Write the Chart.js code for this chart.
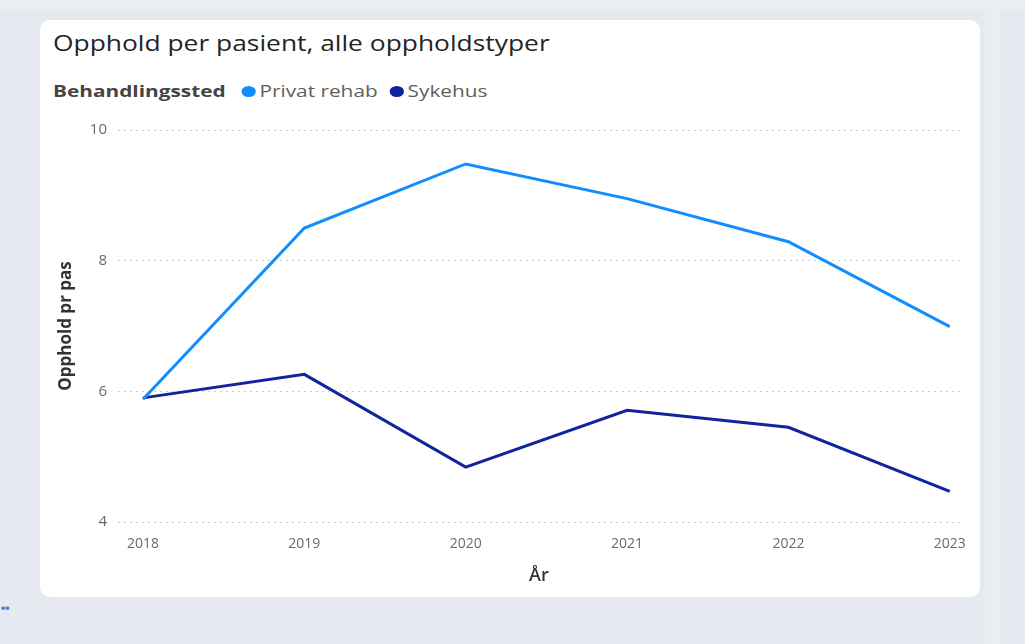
<!DOCTYPE html>
<html>
<head>
<meta charset="utf-8">
<script src="https://cdn.jsdelivr.net/npm/chart.js@4/dist/chart.umd.min.js"></script>
<style>
  html, body { margin:0; padding:0; }
  body { width:1025px; height:644px; background:#e6eaf0; position:relative; overflow:hidden; font-family:"Open Sans", sans-serif; }
  #topstrip { position:absolute; left:0; top:0; width:1025px; height:9px; background:#eceff3; }
  #rightstrip { position:absolute; left:985px; top:0; width:15px; height:644px; background:#eaedf2; }
  #card { position:absolute; left:40px; top:20px; width:940px; height:577px; background:#ffffff; border-radius:10px; }
  #title { position:absolute; left:53px; top:29px; font-size:21px; color:#252423; font-family:"Open Sans", sans-serif; white-space:nowrap; transform:scaleX(1.256); transform-origin:left center; }
  #legend { position:absolute; left:53px; top:80px; font-size:16px; color:#605E5C; white-space:nowrap; display:flex; align-items:center; transform:scaleX(1.3); transform-origin:left center; }
  #legend b { color:#444; font-weight:700; margin-right:12px; }
  .dot { display:inline-block; width:11px; height:11px; border-radius:50%; margin-right:3px; }
  .item { display:flex; align-items:center; margin-right:9px; }
  #wrap { position:absolute; left:40px; top:110px; width:940px; height:480px; }
  #dots { position:absolute; left:0px; top:592px; color:#4a7fd8; font-size:22px; font-weight:700; letter-spacing:-2px; }
</style>
</head>
<body>
<div id="topstrip"></div>
<div id="rightstrip"></div>
<div id="card"></div>
<div id="title">Opphold per pasient, alle oppholdstyper</div>
<div id="legend"><b>Behandlingssted</b>
  <span class="item"><span class="dot" style="background:#118DFF"></span>Privat rehab</span>
  <span class="item"><span class="dot" style="background:#12239E"></span>Sykehus</span>
</div>
<div id="wrap"><canvas id="c"></canvas></div>
<div id="dots">··</div>
<script>
const years = [2018, 2019, 2020, 2021, 2022, 2023];
const privatRehab = [5.88, 8.50, 9.48, 8.95, 8.29, 6.99];
const sykehus = [5.90, 6.26, 4.84, 5.71, 5.45, 4.47];
const yTicks = [4, 6, 8, 10];
const seriesNames = ["Privat rehab", "Sykehus"];
const seriesColors = ["#118DFF", "#12239E"];

const toPoints = arr => arr.map((v, i) => ({ x: years[i], y: v }));

new Chart(document.getElementById('c'), {
  type: 'line',
  data: {
    datasets: [
      { label: seriesNames[0], data: toPoints(privatRehab), borderColor: seriesColors[0], backgroundColor: seriesColors[0], borderWidth: 3, pointRadius: 0, tension: 0 },
      { label: seriesNames[1], data: toPoints(sykehus), borderColor: seriesColors[1], backgroundColor: seriesColors[1], borderWidth: 3, pointRadius: 0, tension: 0 }
    ]
  },
  options: {
    responsive: true,
    maintainAspectRatio: false,
    animation: false,
    layout: { padding: { left: 16, right: 20, top: 19, bottom: 0 } },
    plugins: { legend: { display: false }, title: { display: false }, tooltip: { enabled: false } },
    scales: {
      x: {
        type: 'linear',
        min: 2017.845,
        max: 2023.062,
        afterBuildTicks: axis => { axis.ticks = years.map(v => ({ value: v })); },
        afterFit: scale => { scale.height = 68; },
        grid: { display: false, drawTicks: false },
        border: { display: false },
        ticks: { padding: 14, color: '#6b6b6b', font: { family: 'Open Sans', size: 14 }, callback: v => String(v), maxRotation: 0, autoSkip: false },
        title: { display: true, text: 'År', color: '#333333', font: { family: 'Open Sans', size: 18, weight: '600' }, padding: { top: 4, bottom: 3 } }
      },
      y: {
        min: 4,
        max: 10,
        afterBuildTicks: axis => { axis.ticks = yTicks.map(v => ({ value: v })); },
        afterFit: scale => { scale.width = 62; },
        grid: { color: '#cdcdcd', lineWidth: 1, drawTicks: false },
        border: { display: false, dash: [2, 4] },
        ticks: { padding: 11, color: '#6b6b6b', font: { family: 'Open Sans', size: 15 } },
        title: { display: true, text: 'Opphold pr pas', color: '#333333', font: { family: 'Open Sans', size: 17, weight: '700' }, padding: { top: 0, bottom: 0 } }
      }
    }
  }
});
</script>
</body>
</html>
